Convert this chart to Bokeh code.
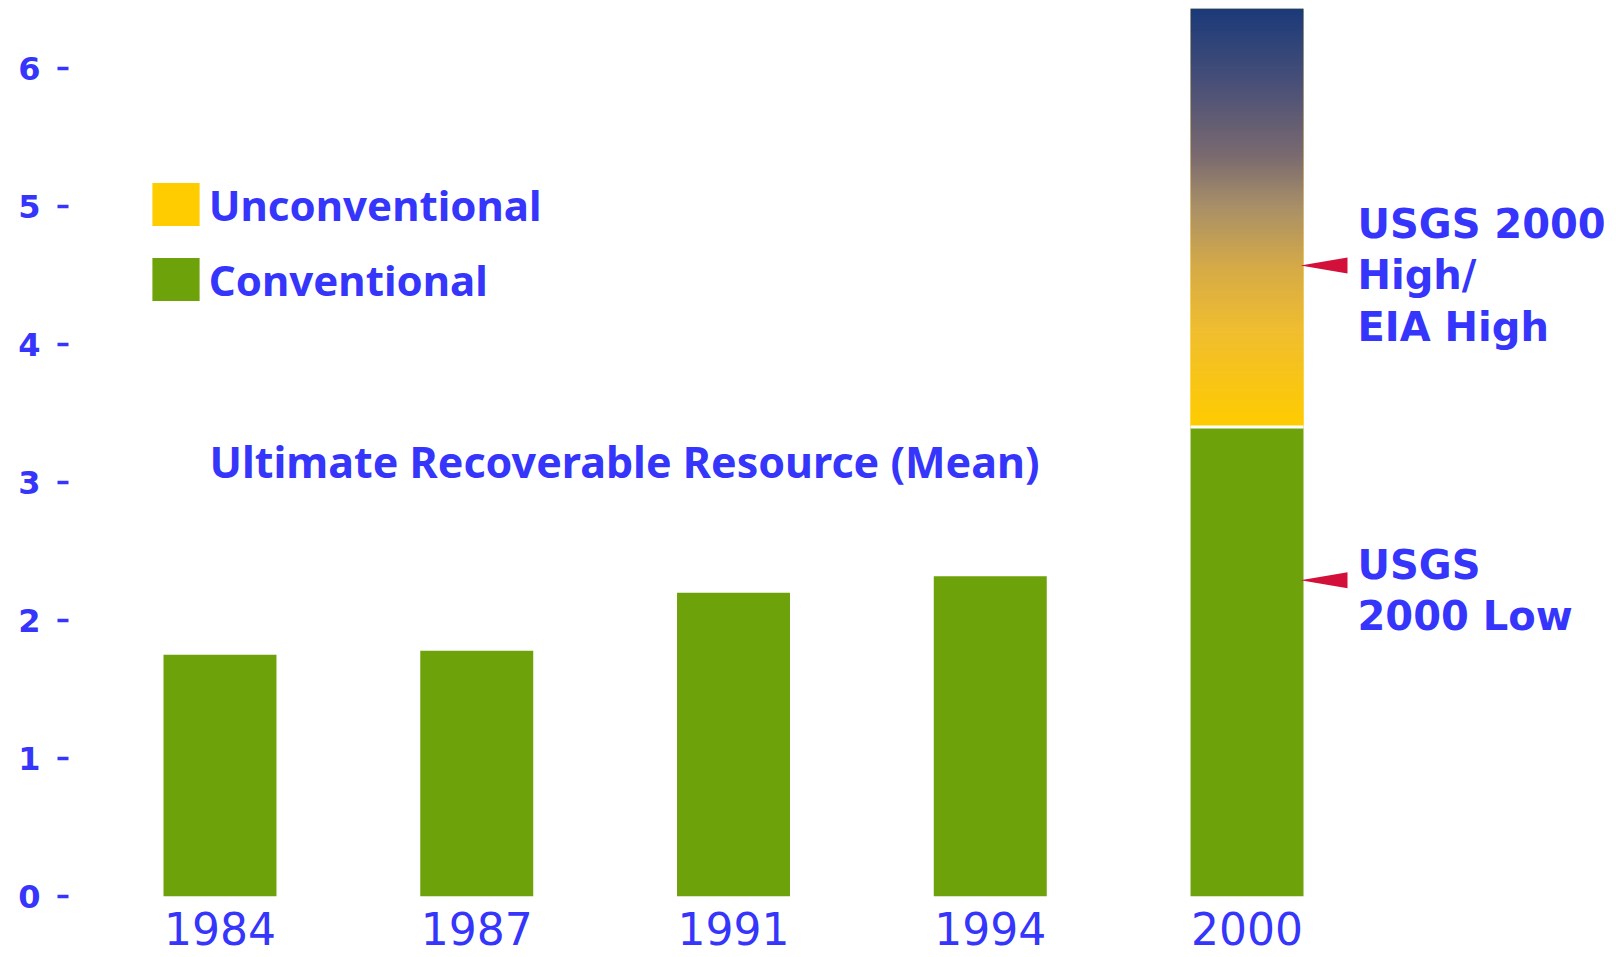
import numpy as np
from bokeh.plotting import figure
from bokeh.models import Range1d, FixedTicker, Legend, LegendItem, Label, ColumnDataSource
from bokeh.core.properties import value
from bokeh.embed import file_html
from bokeh.resources import INLINE

# ---- data ----
years = ["1984", "1987", "1991", "1994", "2000"]
conventional = [1.75, 1.78, 2.20, 2.32, 3.40]
unconventional = [0.0, 0.0, 0.0, 0.0, 3.03]
arrow_values = [4.57, 2.29]
arrow_labels = ["USGS 2000\nHigh/\nEIA High", "USGS\n2000 Low"]
y_ticks = [0, 1, 2, 3, 4, 5, 6]
title_text = "Ultimate Recoverable Resource (Mean)"
legend_labels = ["Unconventional", "Conventional"]

# ---- styles ----
BLUE = "#3535fb"
GREEN = "#6ea20b"
YELLOW = "#ffcc00"
RED = "#d2103a"
FONT = "DejaVu Sans"
BAR_W = 0.44
PX_X = 256.75   # px per x unit
PX_Y = 138.08   # px per y unit

idx = list(range(len(years)))
totals = [c + u for c, u in zip(conventional, unconventional)]

p = figure(width=1616, height=957, output_backend="svg", toolbar_location=None,
           x_range=Range1d(-0.590, 5.439), y_range=Range1d(0, 6.489),
           min_border_left=68, min_border_right=0, min_border_top=0, min_border_bottom=61)
p.outline_line_color = None
p.grid.visible = False
p.background_fill_color = "white"
p.border_fill_color = "white"

src = ColumnDataSource(dict(x=idx, conv=conventional, total=totals))
r_conv = p.vbar(x="x", top="conv", bottom=0, width=BAR_W, fill_color=GREEN,
                line_color=None, source=src)
r_unconv = p.vbar(x="x", top="total", bottom="conv", width=BAR_W, fill_color=YELLOW,
                  line_color=None, source=src)

# gradient overlay for the unconventional segment
stops = [(0.0, (255, 204, 0)), (0.23, (240, 190, 48)), (0.38, (214, 171, 72)),
         (0.53, (168, 143, 104)), (0.65, (122, 106, 112)), (0.82, (74, 80, 120)),
         (1.0, (27, 58, 122))]
N = 256
t = np.linspace(0, 1, N)
sp = np.array([s[0] for s in stops])
cols = np.array([s[1] for s in stops], dtype=float)
grad = np.empty((N, 1), dtype=np.uint32)
view = grad.view(dtype=np.uint8).reshape((N, 1, 4))
for k in range(3):
    view[:, 0, k] = np.interp(t, sp, cols[:, k]).astype(np.uint8)
view[:, 0, 3] = 255

gx, gy, gdh = [], [], []
for i, c, u in zip(idx, conventional, unconventional):
    if u > 0:
        gx.append(i - BAR_W / 2); gy.append(c); gdh.append(u)
p.image_rgba(image=[grad] * len(gx), x=gx, y=gy, dw=[BAR_W] * len(gx), dh=gdh)
# white seam between segments
p.segment(x0=[x for x in gx], x1=[x + BAR_W for x in gx], y0=gy, y1=gy,
          line_color="white", line_width=3)

# red pointers + annotation text next to the 2000 bar
last = idx[-1]
tip = last + BAR_W / 2 - 3 / PX_X
base = tip + 47 / PX_X
hh = 8 / PX_Y
xs = [[tip, base, base] for _ in arrow_values]
ys = [[v, v + hh, v - hh] for v in arrow_values]
p.patches(xs=xs, ys=ys, fill_color=RED, line_color=None)
p.text(x=[base] * len(arrow_values), y=arrow_values, text=arrow_labels,
       x_offset=10, y_offset=10, text_baseline="middle", text_align="left",
       text_font=value(FONT), text_font_style="bold", text_font_size="40px",
       text_color=BLUE, text_line_height=1.118)

# title-like label inside the plot
p.add_layout(Label(x=-0.041, y=3.15, text=title_text, text_baseline="middle",
                   text_font="Noto Sans", text_font_style="bold",
                   text_font_size="43px", text_color=BLUE))

# legend
legend = Legend(items=[LegendItem(label=legend_labels[0], renderers=[r_unconv]),
                       LegendItem(label=legend_labels[1], renderers=[r_conv])],
                location=(77.8, 588.5), glyph_width=59, glyph_height=54,
                label_standoff=4, spacing=18, padding=0, margin=0,
                border_line_color=None, background_fill_alpha=0,
                label_text_font="Noto Sans", label_text_font_style="bold",
                label_text_font_size="42px", label_text_color=BLUE)
p.add_layout(legend)

# axes
xa = p.xaxis[0]
xa.ticker = FixedTicker(ticks=idx)
xa.major_label_overrides = {i: y for i, y in zip(idx, years)}
xa.axis_line_color = None
xa.major_tick_line_color = None
xa.minor_tick_line_color = None
xa.major_label_standoff = 9
xa.major_label_text_font = FONT
xa.major_label_text_font_size = "44px"
xa.major_label_text_color = BLUE

ya = p.yaxis[0]
ya.ticker = FixedTicker(ticks=y_ticks)
ya.axis_line_color = None
ya.minor_tick_line_color = None
ya.major_tick_out = 11
ya.major_tick_in = 0
ya.major_tick_line_width = 3.5
ya.major_tick_line_color = BLUE
ya.major_label_standoff = 17
ya.major_label_text_font = FONT
ya.major_label_text_font_style = "bold"
ya.major_label_text_font_size = "32px"
ya.major_label_text_color = BLUE

open("out.html", "w").write(file_html(p, INLINE))
